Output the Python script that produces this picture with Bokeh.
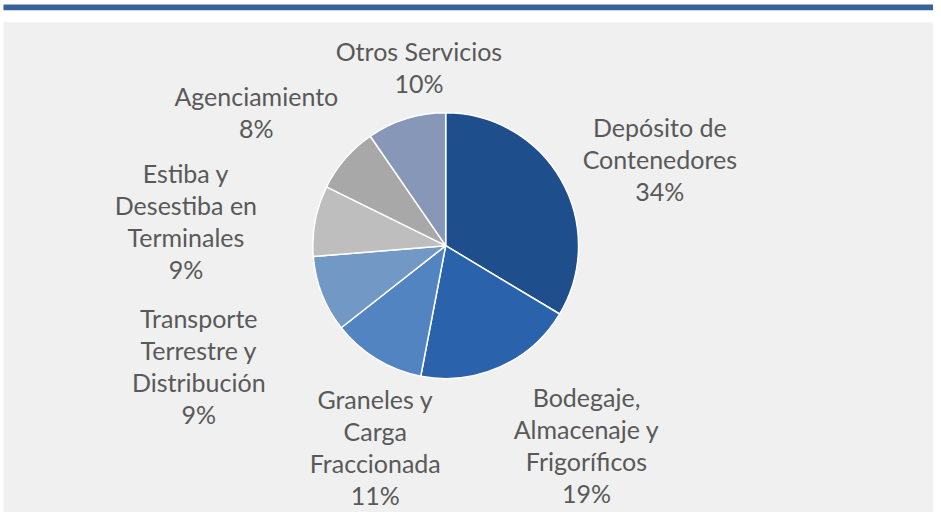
import math
from bokeh.plotting import figure
from bokeh.models import Range1d, ColumnDataSource
from bokeh.core.properties import value
from bokeh.embed import file_html
from bokeh.resources import INLINE

# ---- data ----
categories = [
    "Depósito de\nContenedores",
    "Bodegaje,\nAlmacenaje y\nFrigoríficos",
    "Graneles y\nCarga\nFraccionada",
    "Transporte\nTerrestre y\nDistribución",
    "Estiba y\nDesestiba en\nTerminales",
    "Agenciamiento",
    "Otros Servicios",
]
shares = [33.6, 19.4, 11.4, 9.3, 8.6, 8.1, 9.6]
colors = ["#1F4E8C", "#2A63AC", "#5184C1", "#7299C6", "#BEBEBE", "#A8A8A8", "#8797B8"]

# ---- layout (design coordinates 941x520, y measured downward) ----
DW, DH = 941, 520
W, H = 933, 512
CX, CY, R = 449, 249, 134
label_pos = [(665, 128), (591, 403), (378, 405), (200, 322), (187, 175), (258, 97), (422, 51)]
LINE = 32.5
FONT = "Lato"
FSIZE = "25px"


def fy(y):
    return DH - y


p = figure(width=W, height=H, output_backend="svg", toolbar_location=None,
           x_range=Range1d(0, DW), y_range=Range1d(0, DH),
           x_axis_location=None, y_axis_location=None,
           min_border=0, outline_line_color=None,
           background_fill_color="white", border_fill_color="white")
p.grid.visible = False

# decorative frame
p.quad(left=3, right=DW, bottom=fy(10), top=fy(4), fill_color="#37629A", line_color=None)
p.quad(left=3, right=DW, bottom=fy(DH), top=fy(22), fill_color="#F0F0F0", line_color=None)

# wedges
total = sum(shares)
starts, ends = [], []
cum = 0.0
for s in shares:
    a0 = math.pi / 2 - 2 * math.pi * (cum + s) / total
    a1 = math.pi / 2 - 2 * math.pi * cum / total
    starts.append(a0)
    ends.append(a1)
    cum += s
src = ColumnDataSource(dict(start=starts, end=ends, color=colors))
p.wedge(x=CX, y=fy(CY), radius=R, start_angle="start", end_angle="end",
        fill_color="color", line_color="white", line_width=1.5, source=src)

# labels
xs, ys, texts = [], [], []
for cat, s, (lx, ly) in zip(categories, shares, label_pos):
    lines = cat.split("\n") + [f"{round(100 * s / total)}%"]
    for i, t in enumerate(lines):
        xs.append(lx)
        ys.append(fy(ly + i * LINE))
        texts.append(t)
p.text(x=xs, y=ys, text=texts, text_align="center", text_baseline="alphabetic",
       text_font=value(FONT), text_font_size=FSIZE, text_color="#595959")

open("out.html", "w").write(file_html(p, INLINE))
